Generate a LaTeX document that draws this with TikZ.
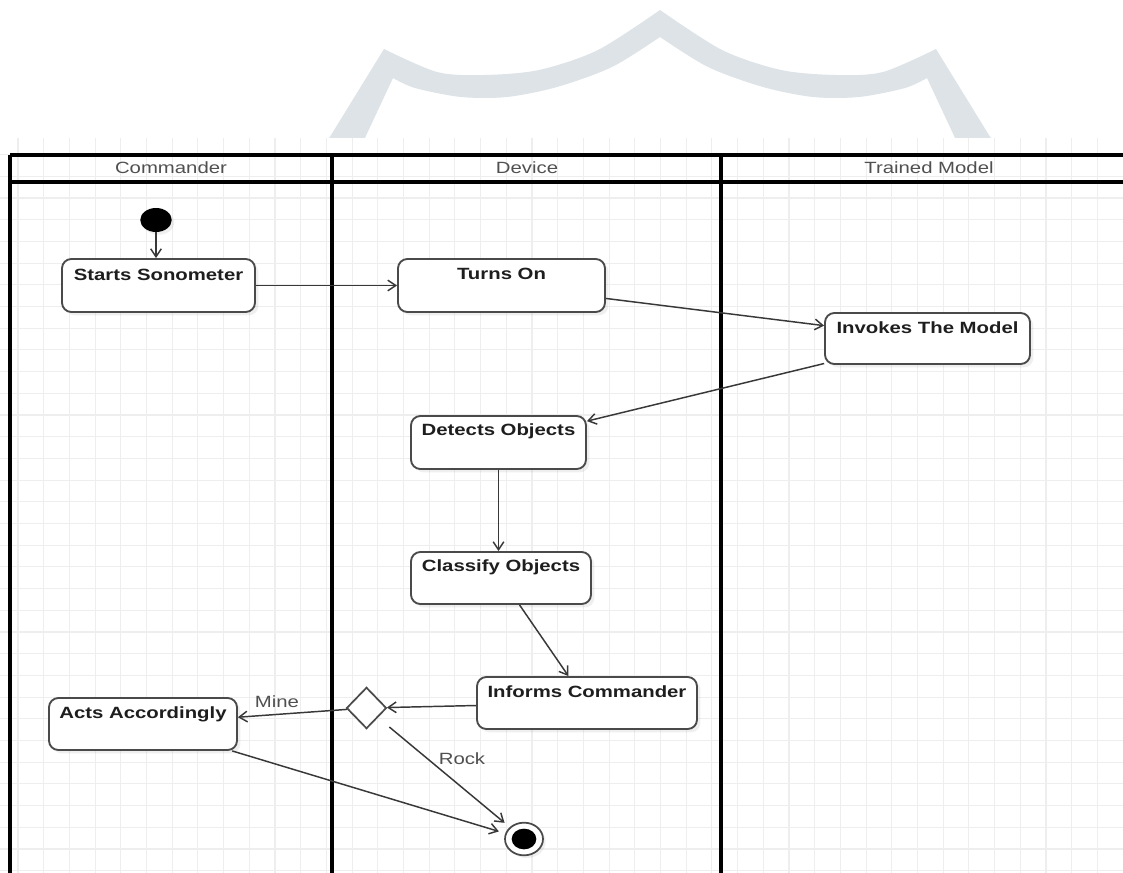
\documentclass[tikz,border=0pt]{standalone}
\usepackage{fontspec}
\setmainfont{Liberation Sans}[FakeStretch=1.25]
\usetikzlibrary{arrows.meta,shapes.geometric,shadows,fit}
\definecolor{wmc}{HTML}{DDE3E7}
\definecolor{gridc}{HTML}{EEEEEE}
\definecolor{edgec}{HTML}{383838}
\definecolor{boxc}{HTML}{4A4A4A}
\definecolor{hdrc}{HTML}{505050}
\definecolor{txtc}{HTML}{1E1E1E}
\begin{document}
\begin{tikzpicture}[x=0.75pt,y=-0.75pt,
  lane/.style={line width=2.6pt, draw=black},
  hdr/.style={font=\fontsize{12.2}{14}\selectfont, text=hdrc, inner sep=0},
  actbox/.style={draw=boxc, line width=1.4pt, rounded corners=7pt, fill=white, inner sep=0,
     drop shadow={shadow xshift=2.5pt, shadow yshift=-2.5pt, opacity=0.12}},
  acttxt/.style={font=\bfseries\fontsize{12.2}{14}\selectfont, text=txtc, inner sep=0},
  arr/.style={draw=edgec, line width=1.1pt, -{Straight Barb[length=6pt,width=8pt]}},
  elabel/.style={font=\fontsize{12.2}{14}\selectfont, text=hdrc, inner sep=0},
]
% canvas
\fill[white] (0,0) rectangle (1123,873);
\useasboundingbox (0,0) rectangle (1123,873);
% watermark
\fill[wmc] (328,140) -- (384,49)
  -- plot[smooth] coordinates {(384,49) (437,72) (484,75) (539,70) (598,50) (660,10)}
  -- plot[smooth] coordinates {(660,10) (722,50) (781,70) (836,75) (883,72) (936,49)}
  -- (992,140) -- (956,140) -- (927,78)
  -- plot[smooth] coordinates {(927,78) (905,88) (859,97) (813,97) (763,87) (708,67) (660,37)}
  -- plot[smooth] coordinates {(660,37) (612,67) (557,87) (507,97) (461,97) (415,88) (393,78)}
  -- (364,140) -- cycle;
% grid canvas
\fill[white] (0,138) rectangle (1123,873);
\foreach \k in {0,...,43} \draw[gridc, line width=0.8pt] ({18+25.7*\k},138) -- ({18+25.7*\k},873);
\foreach \k in {0,...,33} \draw[gridc, line width=0.8pt] (0,{154.6+21.7*\k}) -- (1123,{154.6+21.7*\k});
% swimlanes
\draw[lane] (10,155) -- (1123,155);
\draw[lane] (10,182) -- (1123,182);
\draw[lane] (10,155) -- (10,873);
\draw[lane] (332,155) -- (332,873);
\draw[lane] (721,155) -- (721,873);
\node[hdr] (h1) at (171,168) {Commander};
\node[hdr] (h2) at (527,168) {Device};
\node[hdr] (h3) at (929,168) {Trained Model};
% nodes
\node[ellipse, fill=black, minimum width=23.6pt, minimum height=18pt, inner sep=0,
  drop shadow={shadow xshift=2pt, shadow yshift=-2pt, opacity=0.12}] (init) at (156,220) {};
\node[actbox, fit={(62,259) (255,312)}] (ss) {};
\node[acttxt] (sst) at ([yshift=-12.6pt]ss.north) {Starts Sonometer};
\node[actbox, fit={(398,259) (605,312)}] (ton) {};
\node[acttxt] (tont) at ([yshift=-12pt]ton.north) {Turns On};
\node[actbox, fit={(825,313) (1030,364)}] (inv) {};
\node[acttxt] (invt) at ([yshift=-11.5pt]inv.north) {Invokes The Model};
\node[actbox, fit={(411,416) (586,469)}] (det) {};
\node[acttxt] (dett) at ([yshift=-12.4pt]det.north) {Detects Objects};
\node[actbox, fit={(411,552) (591,604)}] (cls) {};
\node[acttxt] (clst) at ([yshift=-12pt]cls.north) {Classify Objects};
\node[actbox, fit={(477,677) (697,729)}] (inf) {};
\node[acttxt] (inft) at ([yshift=-12pt]inf.north) {Informs Commander};
\node[actbox, fit={(49,698) (237,750)}] (act) {};
\node[acttxt] (actt) at ([yshift=-12.6pt]act.north) {Acts Accordingly};
\node[diamond, draw=boxc, line width=1.3pt, fill=white, minimum width=30pt, minimum height=31pt, inner sep=0] (dec) at (366.5,708) {};
\node[ellipse, draw=boxc, line width=1.3pt, fill=white, minimum width=28.5pt, minimum height=24.5pt, inner sep=0,
  drop shadow={shadow xshift=2pt, shadow yshift=-2pt, opacity=0.12}] (fin) at (524,839) {};
\node[ellipse, fill=black, minimum width=18.5pt, minimum height=15.5pt, inner sep=0] (finin) at (fin.center) {};
% connectors
\draw[arr] (init) -- (init |- ss.north);
\draw[arr] (ss) -- (ton);
\draw[arr] (ton) -- (inv);
\draw[arr] (inv) -- (det);
\draw[arr] (det) -- (det |- cls.north);
\draw[arr] (cls) -- (inf);
\draw[arr] (inf) -- (dec);
\draw[arr] (dec) -- (act);
\draw[arr, shorten <=11pt, shorten >=5pt] (dec) -- (fin);
\draw[arr, shorten >=5pt] (act) -- (fin);
\node[elabel] (lmine) at (277,702) {Mine};
\node[elabel] (lrock) at (462,759) {Rock};
\end{tikzpicture}
\end{document}
